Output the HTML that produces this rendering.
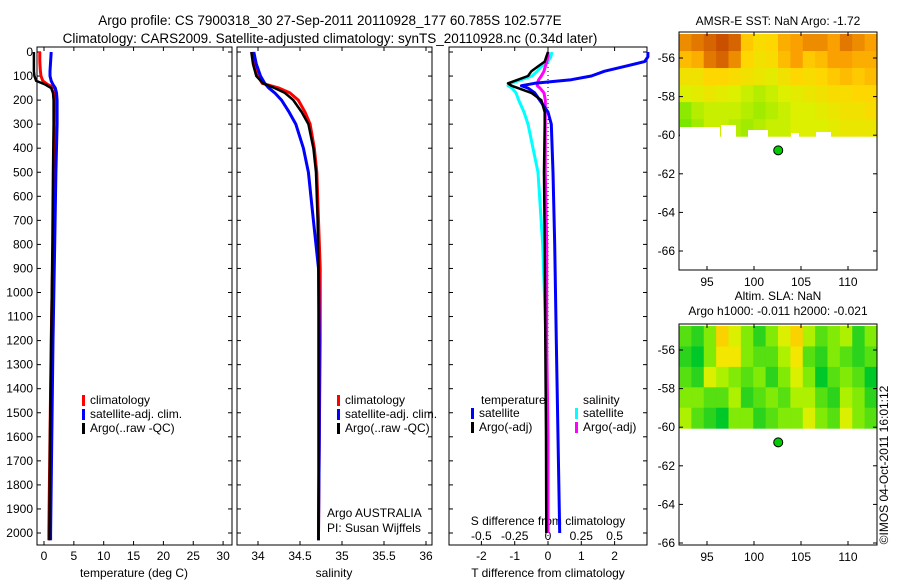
<!DOCTYPE html>
<html><head><meta charset="utf-8"><style>
body{margin:0;background:#fff;}
svg text{font-family:"Liberation Sans",sans-serif;font-size:12px;fill:#000;}
svg text.big{font-size:13.5px;}
</style></head><body>
<svg id="c" width="900" height="580" viewBox="0 0 900 580" xmlns="http://www.w3.org/2000/svg"></svg>
<script>
// ---- data ----
const depthT = [0,40,80,100,120,135,150,170,200,300,500,800,1200,1600,2000,2030];
const tempClim = [-0.7,-0.7,-0.6,-0.5,-0.2,0.6,1.8,1.9,1.8,1.7,1.6,1.5,1.2,1.0,0.8,0.8];
const tempSat  = [1.2,1.1,1.0,1.0,1.2,1.5,1.9,2.1,2.2,2.2,2.0,1.8,1.5,1.3,1.1,1.1];
const tempArgo = [-1.7,-1.7,-1.7,-1.6,-1.3,0.2,1.2,1.5,1.6,1.6,1.5,1.4,1.2,1.0,0.9,0.9];
const depthS = [0,50,100,130,150,170,200,250,300,400,500,700,900,1200,1600,2000,2030];
const salClim = [33.93,33.96,34.0,34.05,34.25,34.38,34.48,34.56,34.62,34.67,34.7,34.72,34.74,34.74,34.73,34.72,34.72];
const salSat  = [33.95,33.98,34.03,34.08,34.13,34.2,34.28,34.37,34.45,34.54,34.6,34.66,34.72,34.73,34.73,34.72,34.72];
const salArgo = [33.92,33.94,33.98,34.06,34.2,34.32,34.42,34.52,34.6,34.66,34.69,34.71,34.72,34.72,34.72,34.72,34.72];
const depthD = [0,20,40,60,80,100,115,130,140,150,170,200,250,300,500,800,1200,1600,2000];
const tDiffSat  = [3.0,3.0,2.9,2.3,1.7,1.3,0.7,-0.4,-0.8,-0.6,-0.4,-0.25,0.0,0.1,0.15,0.2,0.25,0.3,0.35];
const tDiffArgo = [0.0,-0.05,-0.1,-0.3,-0.5,-0.6,-0.9,-1.2,-1.1,-0.9,-0.5,-0.2,-0.1,-0.1,-0.12,-0.1,-0.08,-0.06,-0.05];
const sDiffSat  = [0.03,0.02,0.0,-0.05,-0.08,-0.12,-0.2,-0.28,-0.3,-0.27,-0.24,-0.22,-0.18,-0.15,-0.075,-0.04,-0.015,-0.01,-0.01];
const sDiffArgo = [0.0,0.0,-0.01,-0.02,-0.03,-0.05,-0.07,-0.08,-0.08,-0.06,-0.03,-0.02,-0.02,-0.02,-0.02,-0.01,-0.01,0.0,0.0];
const depthTicks = [0,100,200,300,400,500,600,700,800,900,1000,1100,1200,1300,1400,1500,1600,1700,1800,1900,2000];
const tempTicks = [0,5,10,15,20,25,30];
const salTicks = [34,34.5,35,35.5,36];
const salTickLabels = ["34","34.5","35","35.5","36"];
const tdTicks = [-2,-1,0,1,2];
const sdTickLabels = ["-0.5","-0.25","0","0.25","0.5"];
const lonTicks = [95,100,105,110];
const latTicks = [-56,-58,-60,-62,-64,-66];
const sstGrid = [
 [0.8,0.85,0.9,0.95,0.9,0.6,0.5,0.55,0.7,0.75,0.8,0.8,0.75,0.85,0.8,0.75],
 [0.65,0.7,0.85,0.9,0.8,0.55,0.45,0.5,0.65,0.75,0.6,0.65,0.75,0.75,0.7,0.7],
 [0.45,0.45,0.55,0.55,0.5,0.45,0.4,0.35,0.45,0.55,0.5,0.55,0.6,0.65,0.6,0.65],
 [0.3,0.35,0.4,0.35,0.3,0.25,0.2,0.25,0.3,0.35,0.4,0.45,0.5,0.5,0.55,0.55],
 [0.1,0.2,0.25,0.25,0.25,0.2,0.15,0.2,0.25,0.3,0.3,0.35,0.4,0.45,0.45,0.5],
 [0.05,0.15,0.25,0.25,0.2,0.15,0.2,0.25,0.25,0.3,0.3,0.3,0.35,0.4,0.4,0.4]];
const slaGrid = [
 [0.2,0.1,0.3,0.7,0.5,0.3,0.1,0.3,0.5,0.7,0.4,0.2,0.3,0.4,0.1,0.3],
 [0.1,0.0,0.3,0.6,0.6,0.3,0.2,0.2,0.4,0.6,0.2,0.1,0.3,0.2,0.1,0.2],
 [0.2,0.1,0.5,0.4,0.3,0.2,0.3,0.1,0.3,0.5,0.3,0.0,0.2,0.3,0.2,0.0],
 [0.3,0.3,0.2,0.2,0.4,0.1,0.2,0.3,0.2,0.4,0.4,0.2,0.1,0.4,0.3,0.1],
 [0.4,0.2,0.1,0.0,0.3,0.3,0.1,0.2,0.3,0.3,0.5,0.3,0.2,0.5,0.3,0.2]];

// ---- helpers ----
const S = document.getElementById('c');
const NS = 'http://www.w3.org/2000/svg';
function mk(tag, attrs, parent){const e=document.createElementNS(NS,tag);for(const k in attrs)e.setAttribute(k,attrs[k]);(parent||S).appendChild(e);return e;}
function txt(x,y,s,anchor,name,cls){const t=mk('text',{x:x,y:y,'text-anchor':anchor||'start'});if(cls)t.setAttribute('class',cls);t.textContent=s;
 
 
 return t;}
const yD = d => 52 + d*0.2405;
function box(x0,y0,x1,y1,name){const r=mk('rect',{x:x0,y:y0,width:x1-x0,height:y1-y0,fill:'none',stroke:'#000','stroke-width':1});
 
 }
function line(xs,ds,xf,color,w,name){let p='';for(let i=0;i<xs.length;i++)p+=(i?'L':'M')+xf(xs[i]).toFixed(1)+','+yD(ds[i]).toFixed(1);
 const e=mk('path',{d:p,fill:'none',stroke:color,'stroke-width':w,'stroke-linejoin':'round'});
 
 }
function depthAxis(x0,x1,labels){depthTicks.forEach(d=>{const y=yD(d);mk('line',{x1:x0,y1:y,x2:x0+4,y2:y,stroke:'#000'});mk('line',{x1:x1,y1:y,x2:x1-4,y2:y,stroke:'#000'});
 if(labels)txt(x0-4,y+4,String(d),'end','depth-tick-label');});}

txt(330,25,'Argo profile: CS 7900318_30 27-Sep-2011 20110928_177 60.785S 102.577E','middle','title-line-1','big');
txt(330,43,'Climatology: CARS2009. Satellite-adjusted climatology: synTS_20110928.nc (0.34d later)','middle','title-line-2','big');

// Panel 1 temperature
const xT = v => 44 + v*5.97;
box(37,47,232,545,'temperature-panel');
depthAxis(37,232,true);
tempTicks.forEach(t=>{const x=xT(t);mk('line',{x1:x,y1:545,x2:x,y2:541,stroke:'#000'});mk('line',{x1:x,y1:47,x2:x,y2:51,stroke:'#000'});txt(x,560,String(t),'middle','temperature-tick-label');});
txt(134,577,'temperature (deg C)','middle','temperature-axis-title');
line(tempClim,depthT,xT,'#f00',3,'temperature-climatology-line');
line(tempSat,depthT,xT,'#00f',3,'temperature-satellite-line');
line(tempArgo,depthT,xT,'#000',2.5,'temperature-argo-line');
function legend(x,y,items,pre){items.forEach((it,i)=>{const r=mk('rect',{x:x,y:y+i*14-9,width:3,height:11,fill:it[1]});
 
 
 txt(x+8,y+i*14,it[0],'start',pre+'-legend-label');});}
legend(82,404,[['climatology','#f00'],['satellite-adj. clim.','#00f'],['Argo(..raw -QC)','#000']],'temperature');

// Panel 2 salinity
const xS = v => 258 + (v-34)*84;
box(237,47,432,545,'salinity-panel');
depthAxis(237,432,false);
salTicks.forEach((t,i)=>{const x=xS(t);mk('line',{x1:x,y1:545,x2:x,y2:541,stroke:'#000'});mk('line',{x1:x,y1:47,x2:x,y2:51,stroke:'#000'});txt(x,560,salTickLabels[i],'middle','salinity-tick-label');});
txt(334,577,'salinity','middle','salinity-axis-title');
line(salClim,depthS,xS,'#f00',3,'salinity-climatology-line');
line(salSat,depthS,xS,'#00f',3,'salinity-satellite-line');
line(salArgo,depthS,xS,'#000',2.5,'salinity-argo-line');
legend(337,404,[['climatology','#f00'],['satellite-adj. clim.','#00f'],['Argo(..raw -QC)','#000']],'salinity');
txt(327,517,'Argo AUSTRALIA','start','argo-australia-label');
txt(327,532,'PI: Susan Wijffels','start','pi-label');

// Panel 3 differences
const xTD = v => 548 + v*33.3;
const xSD = v => 548 + v*133.2;
box(449,47,647,545,'difference-panel');
depthAxis(449,647,false);
tdTicks.forEach(t=>{const x=xTD(t);mk('line',{x1:x,y1:545,x2:x,y2:541,stroke:'#000'});mk('line',{x1:x,y1:47,x2:x,y2:51,stroke:'#000'});txt(x,560,String(t),'middle','t-diff-tick-label');});
sdTickLabels.forEach((s,i)=>txt(xSD(-0.5+i*0.25),540,s,'middle','s-diff-tick-label'));
txt(548,525,'S difference from climatology','middle','s-diff-axis-title');
txt(548,577,'T difference from climatology','middle','t-diff-axis-title');
mk('line',{x1:548,y1:47,x2:548,y2:545,stroke:'#000','stroke-dasharray':'1,3'});
line(sDiffSat,depthD,xSD,'#0ff',3,'s-diff-satellite-line');
line(sDiffArgo,depthD,xSD,'#f0f',3,'s-diff-argo-line');
line(tDiffSat,depthD,xTD,'#00f',3,'t-diff-satellite-line');
line(tDiffArgo,depthD,xTD,'#000',2.5,'t-diff-argo-line');
txt(481,404,'temperature','start','temperature-legend-heading');
txt(583,404,'salinity','start','salinity-legend-heading');
legend(471,417,[['satellite','#00f'],['Argo(-adj)','#000']],'t-diff');
legend(575,417,[['satellite','#0ff'],['Argo(-adj)','#f0f']],'s-diff');

// Maps
const xLon = v => 707 + (v-95)*9.4;
function ramp(v,sla){
 const stops = sla ? [[0,[0,200,40]],[0.35,[150,240,0]],[0.55,[240,240,0]],[0.8,[255,190,0]],[1,[240,120,0]]]
                   : [[0,[100,230,0]],[0.3,[220,240,0]],[0.55,[255,215,0]],[0.75,[250,160,0]],[1,[190,60,0]]];
 for(let i=1;i<stops.length;i++){if(v<=stops[i][0]){const a=stops[i-1],b=stops[i],t=(v-a[0])/(b[0]-a[0]);
  return 'rgb('+a[1].map((c,j)=>Math.round(c+(b[1][j]-c)*t)).join(',')+')';}}
 return 'rgb(190,60,0)';}
function map(y0,grid,sla,prefix){
 const yL = v => y0 + 26 + (-56 - v)*19.3;
 const top = y0, bot = (y0===32?270:545);
 const gx0=679,gx1=877,gy0=top+2,gy1=yL(-60)+1;
 const cw=(gx1-gx0)/grid[0].length, ch=(gy1-gy0)/grid.length;
 grid.forEach((row,r)=>row.forEach((v,c)=>{const e=mk('rect',{x:gx0+c*cw,y:gy0+r*ch,width:cw+0.5,height:ch+0.5,fill:ramp(v,sla)});
  
  }));
 box(679,top,877,bot,prefix+'-map-frame');
 lonTicks.forEach(l=>{const x=xLon(l);mk('line',{x1:x,y1:top,x2:x,y2:top+4,stroke:'#000'});mk('line',{x1:x,y1:bot,x2:x,y2:bot-4,stroke:'#000'});txt(x,bot+16,String(l),'middle',prefix+'-lon-label');});
 latTicks.forEach(l=>{const y=yL(l);if(y>bot)return;mk('line',{x1:679,y1:y,x2:683,y2:y,stroke:'#000'});mk('line',{x1:877,y1:y,x2:873,y2:y,stroke:'#000'});txt(675,y+4,String(l),'end',prefix+'-lat-label');});
 const d=mk('circle',{cx:xLon(102.577),cy:yL(-60.785),r:4.5,fill:'#0c0',stroke:'#000','stroke-width':1});
 
 
}
txt(778,25,'AMSR-E SST: NaN Argo: -1.72','middle','sst-map-title');
map(32,sstGrid,false,'sst');
[[679,127,40,12],[720,125,15,14],[747,130,20,9],[790,133,8,6],[815,132,15,7]].forEach(g=>{const e=mk('rect',{x:g[0]+1,y:g[1],width:g[2],height:g[3],fill:'#fff'});
 
 });
txt(778,300,'Altim. SLA: NaN','middle','sla-map-title');
txt(778,315,'Argo h1000: -0.011 h2000: -0.021','middle','sla-map-subtitle');
map(324,slaGrid,true,'sla');
const side=txt(0,0,'©IMOS 04-Oct-2011 16:01:12','middle','timestamp-label');
side.setAttribute('transform','translate(888,465) rotate(-90)');
</script>
</body></html>
